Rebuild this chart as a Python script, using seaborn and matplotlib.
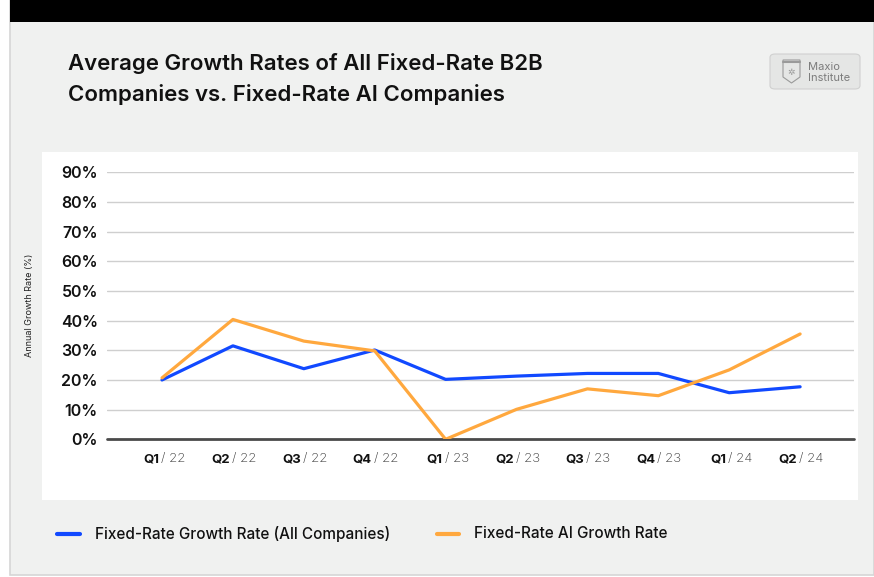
import numpy as np
import pandas as pd
import seaborn as sns
import matplotlib.pyplot as plt
from matplotlib.patches import Rectangle, FancyBboxPatch, Polygon
from matplotlib.transforms import ScaledTranslation

quarters = ["Q1/22", "Q2/22", "Q3/22", "Q4/22", "Q1/23",
            "Q2/23", "Q3/23", "Q4/23", "Q1/24", "Q2/24"]
all_companies = [20.0, 31.5, 23.8, 30.1, 20.2, 21.3, 22.2, 22.2, 15.7, 17.7]
ai_companies = [20.7, 40.4, 33.1, 29.8, 0.0, 10.1, 17.0, 14.7, 23.4, 35.5]
series_names = ["Fixed-Rate Growth Rate (All Companies)", "Fixed-Rate AI Growth Rate"]
y_ticks = [0, 10, 20, 30, 40, 50, 60, 70, 80, 90]

BLUE = "#1149ff"
ORANGE = "#ffa83e"
BG = "#f0f1f0"

sns.set_theme(style="white")
plt.rcParams["font.family"] = ["Inter", "DejaVu Sans"]

W, H = 874, 577
fig = plt.figure(figsize=(W / 100, H / 100), dpi=100, facecolor="white")


def px(x, y, w, h):
    return (x / W, 1 - (y + h) / H, w / W, h / H)


# page background, top bar and white chart card
fig.patches.append(Rectangle((10 / W, 1 - 575 / H), 864 / W, 575 / H,
                             transform=fig.transFigure, facecolor=BG,
                             edgecolor="#d6d6d6", linewidth=1.2, zorder=0))
fig.patches.append(Rectangle((10 / W, 1 - 22 / H), 864 / W, 22 / H,
                             transform=fig.transFigure, facecolor="black",
                             edgecolor="none", zorder=1))
fig.patches.append(Rectangle((42 / W, 1 - 500 / H), 816 / W, 348 / H,
                             transform=fig.transFigure, facecolor="white",
                             edgecolor="none", zorder=1))

# title
fig.text(68 / W, 1 - 63 / H, "Average Growth Rates of All Fixed-Rate B2B",
         fontsize=16, fontweight="semibold", color="#111111", va="center")
fig.text(68 / W, 1 - 95 / H, "Companies vs. Fixed-Rate AI Companies",
         fontsize=16, fontweight="semibold", color="#111111", va="center")

# logo badge
fig.patches.append(FancyBboxPatch((770 / W, 1 - 89 / H), 90 / W, 35 / H,
                                  boxstyle="round,pad=0,rounding_size=0.006",
                                  transform=fig.transFigure, facecolor="#e5e6e5",
                                  edgecolor="#d0d0d0", linewidth=0.8, zorder=2))
shield = [(783, 60), (800, 60), (800, 77), (791.5, 83), (783, 77)]
fig.patches.append(Polygon([(x / W, 1 - y / H) for x, y in shield], closed=True,
                           transform=fig.transFigure, facecolor="none",
                           edgecolor="#9a9a9a", linewidth=0.8, zorder=3))
fig.add_artist(plt.Line2D([783 / W, 800 / W], [1 - 62 / H] * 2, color="#9a9a9a",
                          linewidth=1.5, transform=fig.transFigure, zorder=3))
fig.text(791.5 / W, 1 - 72 / H, "✲", fontsize=6.5, color="#999999",
         ha="center", va="center", family=["DejaVu Sans"], zorder=4)
fig.text(808 / W, 1 - 67 / H, "Maxio", fontsize=8, color="#7c7c7c", va="center", zorder=4)
fig.text(808 / W, 1 - 78 / H, "Institute", fontsize=8, color="#7c7c7c", va="center", zorder=4)

# line chart
ax = fig.add_axes(px(107, 172.3, 747, 267.0))
ax.set_zorder(5)
ax.patch.set_alpha(0)

df = pd.DataFrame({
    "quarter": quarters * 2,
    "pos": list(range(len(quarters))) * 2,
    "growth": all_companies + ai_companies,
    "series": [series_names[0]] * len(quarters) + [series_names[1]] * len(quarters),
})
sns.lineplot(data=df, x="pos", y="growth", hue="series",
             palette=[BLUE, ORANGE], linewidth=2.3, ax=ax, legend=False,
             zorder=3)

ax.set_xlim(-0.776, 9.76)
ax.set_ylim(0, 90)
ax.set_yticks(y_ticks)
ax.set_yticklabels([f"{v}%" for v in y_ticks], fontsize=11.5, fontweight="semibold",
                   color="#111111")
ax.tick_params(axis="y", length=0, pad=6.5)
for v in y_ticks[1:]:
    ax.axhline(v, color="#cfcfcf", linewidth=1.0, zorder=1)
ax.axhline(0, color="#4a4a4a", linewidth=2.0, zorder=2, clip_on=False)
for s in ax.spines.values():
    s.set_visible(False)

ax.set_xticks(range(len(quarters)))
ax.set_xticklabels([])
ax.set_xlabel("")
ax.tick_params(axis="x", length=0)
for i, q in enumerate(quarters):
    qpart, ypart = q.split("/")
    base = ax.get_xaxis_transform()
    ax.text(i, 0, qpart, transform=base + ScaledTranslation(-3 / 100, -20 / 100, fig.dpi_scale_trans),
            ha="right", va="center", fontsize=9.5, fontweight="bold", color="#111111")
    ax.text(i, 0, "/ " + ypart, transform=base + ScaledTranslation(-1 / 100, -20 / 100, fig.dpi_scale_trans),
            ha="left", va="center", fontsize=9.5, fontweight="light", color="#333333")

ax.set_ylabel("Annual Growth Rate (%)", fontsize=6.5, color="#222222")
ax.yaxis.set_label_coords(-73 / 747, 0.5)

# legend
fig.add_artist(plt.Line2D([57 / W, 80 / W], [1 - 534 / H] * 2, color=BLUE,
                          linewidth=3, transform=fig.transFigure))
fig.text(95 / W, 1 - 534 / H, series_names[0], fontsize=11, fontweight="medium",
         color="#111111", va="center")
fig.add_artist(plt.Line2D([437 / W, 459 / W], [1 - 534 / H] * 2, color=ORANGE,
                          linewidth=3, transform=fig.transFigure))
fig.text(474 / W, 1 - 534 / H, series_names[1], fontsize=11, fontweight="medium",
         color="#111111", va="center")

fig.savefig("out.png", dpi=100, facecolor="white")
